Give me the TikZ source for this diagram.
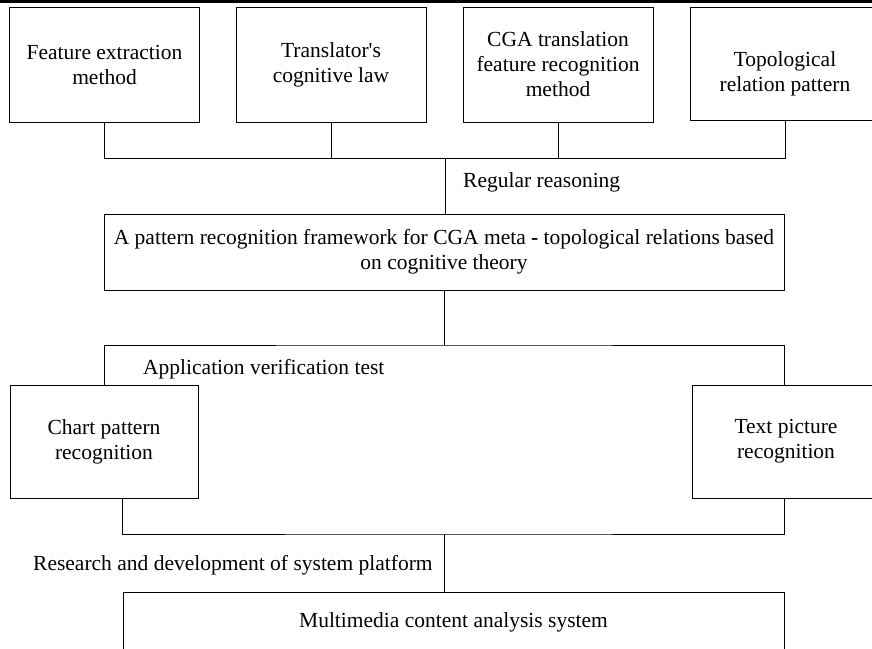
\documentclass[tikz,border=0pt]{standalone}
\usepackage{fontspec}
\setmainfont{Liberation Serif}
\usepackage{tikz}
\usetikzlibrary{positioning}

\begin{document}
\begin{tikzpicture}[
    x=1pt, y=-1pt,
    font=\fontsize{21.5}{25}\selectfont,
    box/.style={draw, line width=0.8pt, align=center, inner sep=0pt},
    topbox/.style={box, minimum width=190pt, minimum height=115pt},
    sidebox/.style={box, minimum width=188pt, minimum height=113pt},
    link/.style={line width=0.8pt},
    note/.style={anchor=base west, inner sep=0pt}
]
\useasboundingbox (0,0) rectangle (872,648);

% rule across the top
\draw[line width=3pt] (0,1.5) -- (872,1.5);

\node[topbox] (feature) at (104.5,65) {Feature extraction\\method};
\node[topbox] (translator) at (331,65) {Translator\textquotesingle s\\cognitive law};
\node[topbox] (cgafeat) at (558,64.5) {CGA translation\\feature recognition\\method};
\node[topbox, minimum height=113pt, label={[align=center, yshift=-10pt]center:Topological\\relation pattern}] (topo) at (785,63.5) {};

\node[box, minimum width=680pt, minimum height=76pt] (framework) at (444,252) {A pattern recognition framework for CGA meta \textbf{-} topological relations based\\on cognitive theory};

\node[sidebox] (chart) at (104,441.5) {Chart pattern\\recognition};
\node[sidebox] (textpic) at (786,441.5) {Text picture\\recognition};

\node[box, minimum width=661pt, minimum height=60pt] (multimedia) at (453.5,622) {Multimedia content analysis system};

\node[note] (regular) at (463,187) {Regular reasoning};
\node[note] (appverify) at (143,374) {Application verification test};
\node[note] (research) at (33,570) {Research and development of system platform};

\coordinate (topbus) at (445,158);
\coordinate (midbus) at (444,345);
\coordinate (lowbus) at (444,534);

\draw[link] (feature.south) |- (topo.south |- topbus) -- (topo.south);
\draw[link] (translator.south) -- (translator.south |- topbus);
\draw[link] (cgafeat.south) -- (cgafeat.south |- topbus);
\draw[link] (topbus) -- (topbus |- framework.north);

\draw[link] (framework.south) -- (midbus);
\draw[link] (chart.north) |- (midbus) -| (framework.east |- textpic.north);

\draw[link] (chart.south -| multimedia.west) |- (lowbus) -| (textpic.south -| multimedia.east);
\draw[link] (lowbus) -- (lowbus |- multimedia.north);

\end{tikzpicture}
\end{document}
